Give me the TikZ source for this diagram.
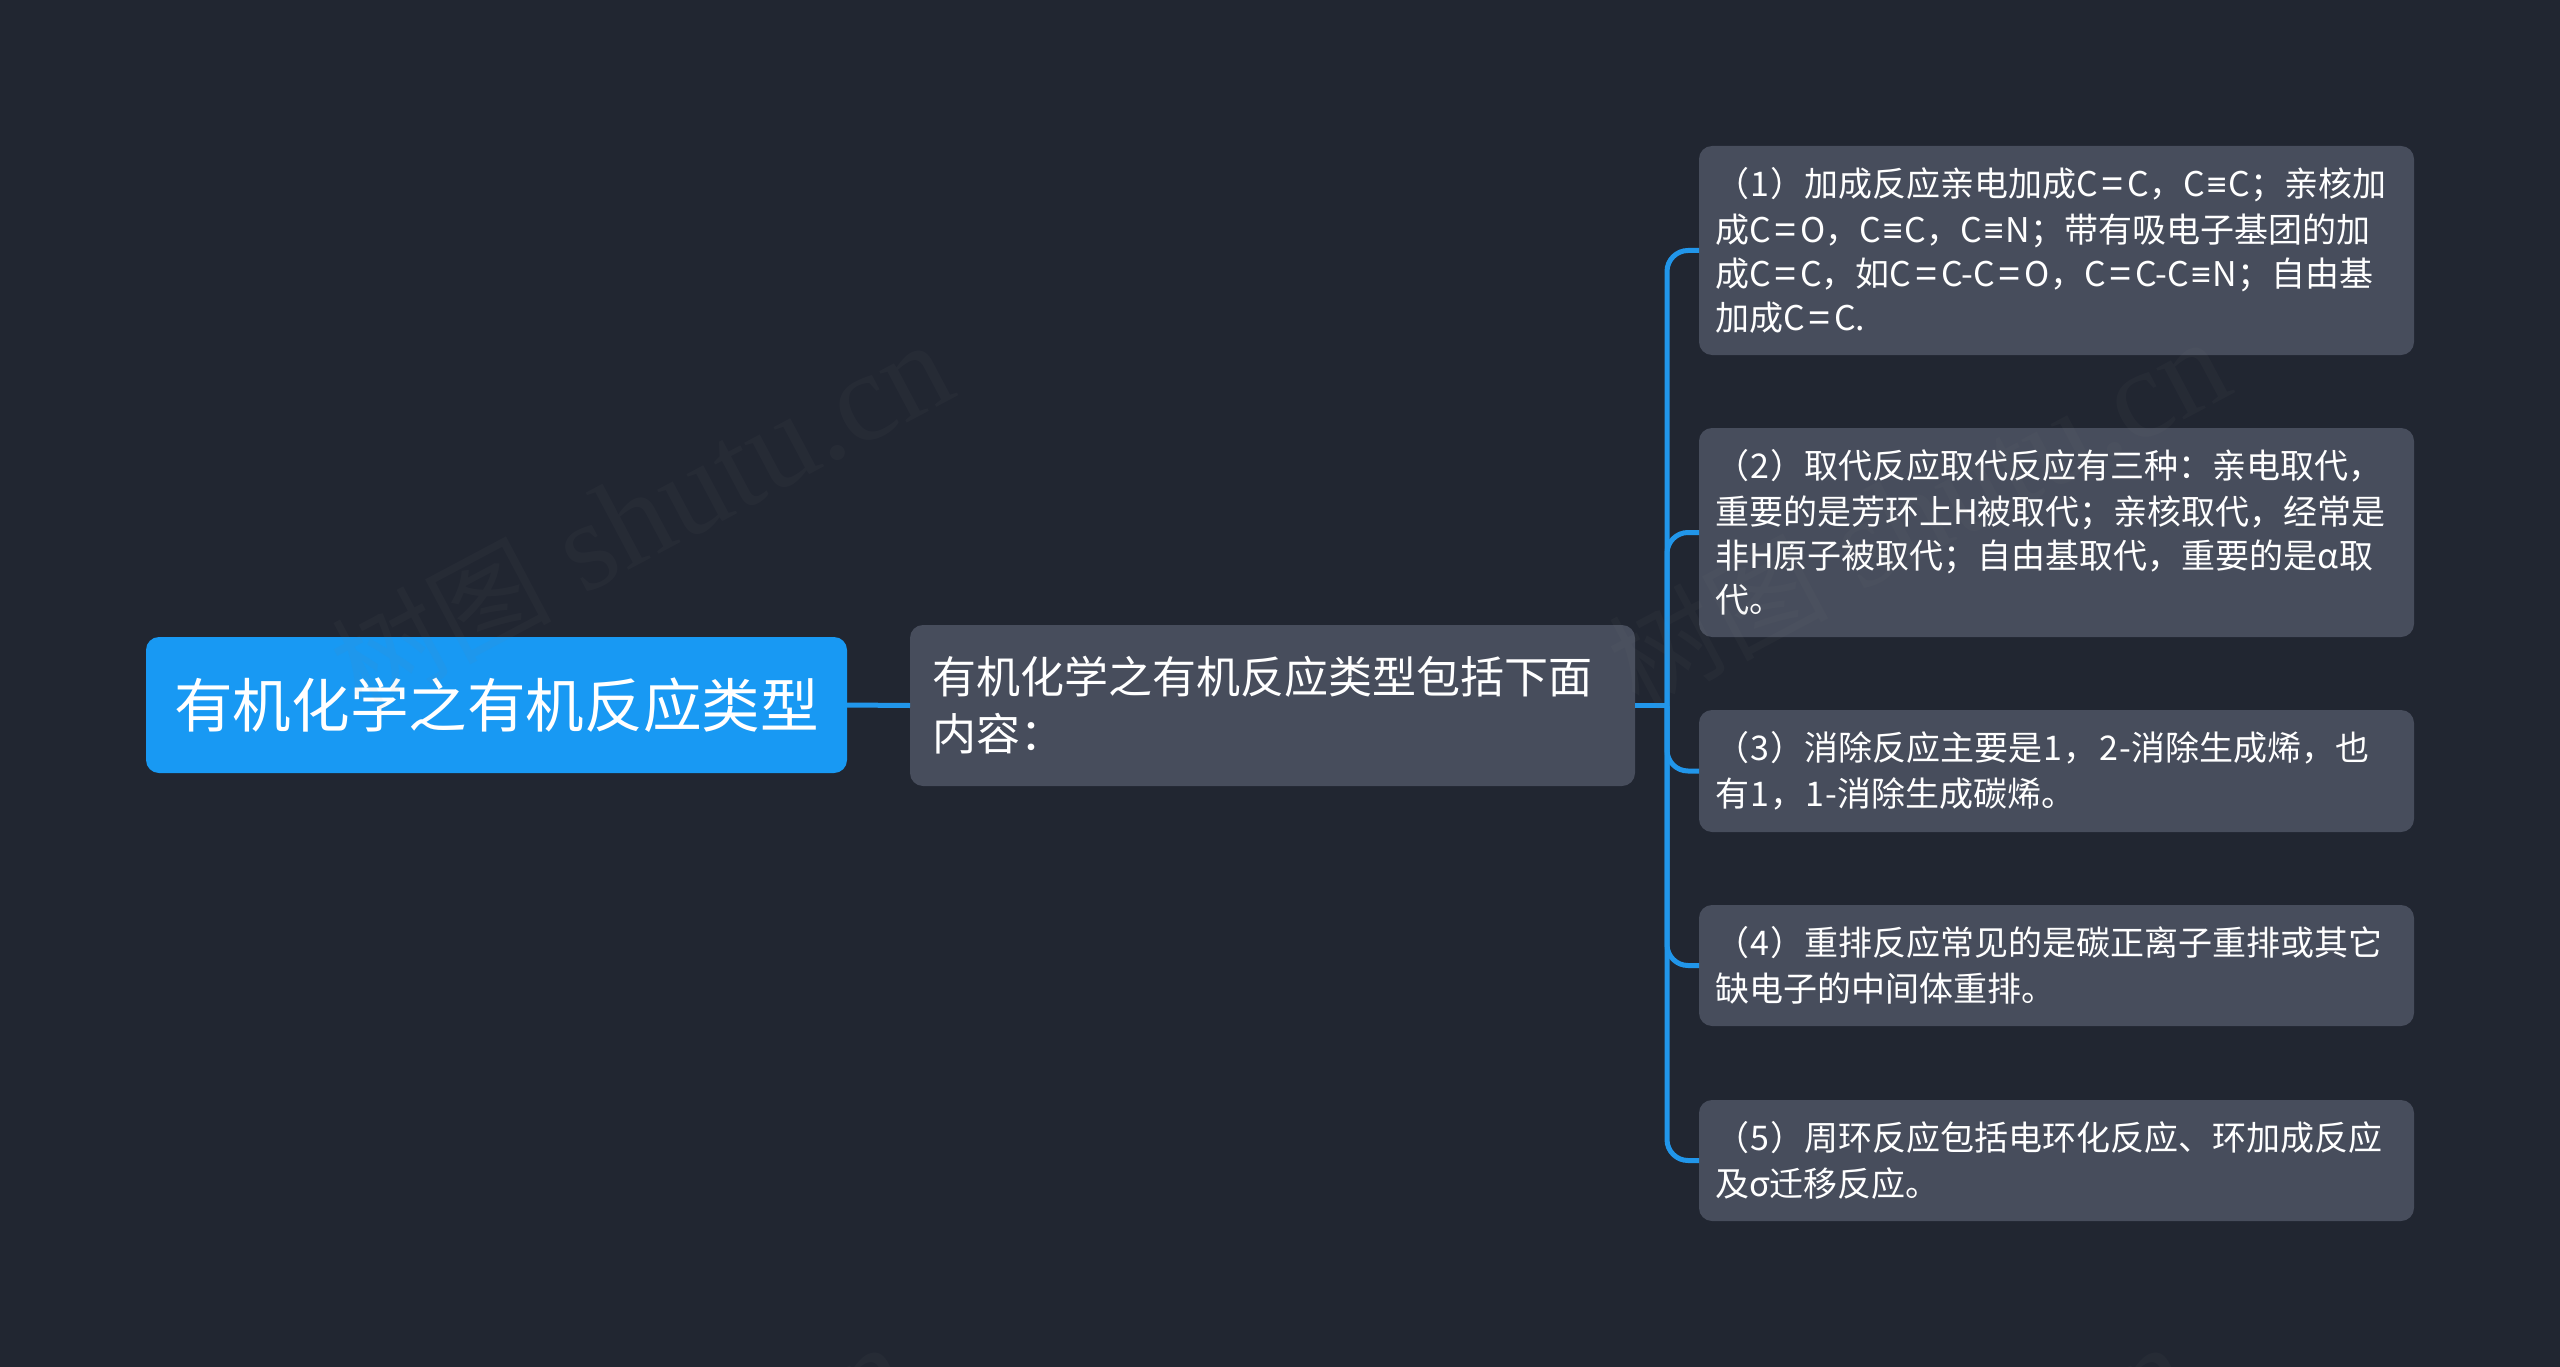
\documentclass[tikz,border=0pt]{standalone}
\usepackage{fontspec}
\setmainfont{Noto Sans CJK SC}
\newfontfamily\wmserif{Liberation Serif}
\newfontfamily\eqvfont{Liberation Sans}
\newfontfamily\wmcjk{Noto Sans CJK SC}
\newcommand{\EQ}{\makebox[29.5pt][c]{\eqvfont\fontsize{38}{44}\selectfont =}}
\newcommand{\EV}{\makebox[23.5pt][c]{\eqvfont ≡}}
\newcommand{\DG}[1]{\makebox[21.5pt][c]{#1}}
\newcommand{\WMTEXT}{{\wmcjk\fontsize{110}{110}\selectfont 树图} shutu.cn}
\definecolor{bgc}{HTML}{212631}
\definecolor{boxc}{HTML}{474D5C}
\definecolor{rootc}{HTML}{1899F3}
\definecolor{linec}{HTML}{2196EA}
\definecolor{wmc}{HTML}{808080}
\tikzset{
  basebox/.style={rounded corners=13pt,inner ysep=0pt,outer sep=0pt,anchor=north west,text=white},
  rootbox/.style={basebox,fill=rootc,minimum width=701pt,minimum height=136pt,inner xsep=0pt,align=center,font=\fontsize{58.6}{58.6}\selectfont},
  midbox/.style={basebox,fill=boxc,minimum width=725pt,minimum height=161pt,inner xsep=22pt,text width=681pt,align=left,font=\fontsize{44}{57}\selectfont},
  leafbox/.style={basebox,fill=boxc,minimum width=715pt,inner xsep=16pt,text width=683pt,align=left,font=\fontsize{34}{44}\selectfont,execute at begin node={\vspace*{2pt}}},
  conn/.style={draw=linec,line width=5pt},
  branch/.style={conn,rounded corners=21pt},
  wm/.style={text=wmc,opacity=.06,rotate=28,inner sep=0pt,font=\wmserif\fontsize{127}{127}\selectfont}
}
\begin{document}
\begin{tikzpicture}[x=1pt,y=-1pt]
\useasboundingbox[fill=bgc] (0,0) rectangle (2560,1367);
\clip (0,0) rectangle (2560,1367);
\node[rootbox] (root) at (146,637) {有机化学之有机反应类型};
\node[midbox] (mid) at (910,625) {有机化学之有机反应类型包括下面\\内容：};
\node[leafbox,minimum height=209pt] (t1) at (1699,146) {（\DG{1}）加成反应亲电加成C\EQ C，C\EV C；亲核加\\成C\EQ O，C\EV C，C\EV N；带有吸电子基团的加\\成C\EQ C，如C\EQ C-C\EQ O，C\EQ C-C\EV N；自由基\\加成C\EQ C.};
\node[leafbox,minimum height=209pt] (t2) at (1699,428) {（\DG{2}）取代反应取代反应有三种：亲电取代，\\重要的是芳环上H被取代；亲核取代，经常是\\非H原子被取代；自由基取代，重要的是α取\\代。};
\node[leafbox,minimum height=122pt] (t3) at (1699,710) {（\DG{3}）消除反应主要是\DG{1}，\DG{2}-消除生成烯，也\\有\DG{1}，\DG{1}-消除生成碳烯。};
\node[leafbox,minimum height=121pt] (t4) at (1699,905) {（\DG{4}）重排反应常见的是碳正离子重排或其它\\缺电子的中间体重排。};
\node[leafbox,minimum height=121pt] (t5) at (1699,1100) {（\DG{5}）周环反应包括电环化反应、环加成反应\\及σ迁移反应。};
\coordinate (trunk) at (1667,705.5);
\draw[conn] (root.east) -- (mid.west);
\draw[conn] (mid.east) -- (trunk);
\draw[branch] (t1.west) -| (trunk) |- (t5.west);
\draw[branch] (t2.west) -| (trunk);
\draw[branch] (t3.west) -| (trunk);
\draw[branch] (t4.west) -| (trunk);
\node[wm] (w1) at (641,517) {\WMTEXT};
\node[wm] (w2) at (1918,514) {\WMTEXT};
\node[wm] (w3) at (597,1519) {\WMTEXT};
\node[wm] (w4) at (1878,1519) {\WMTEXT};
\end{tikzpicture}
\end{document}
